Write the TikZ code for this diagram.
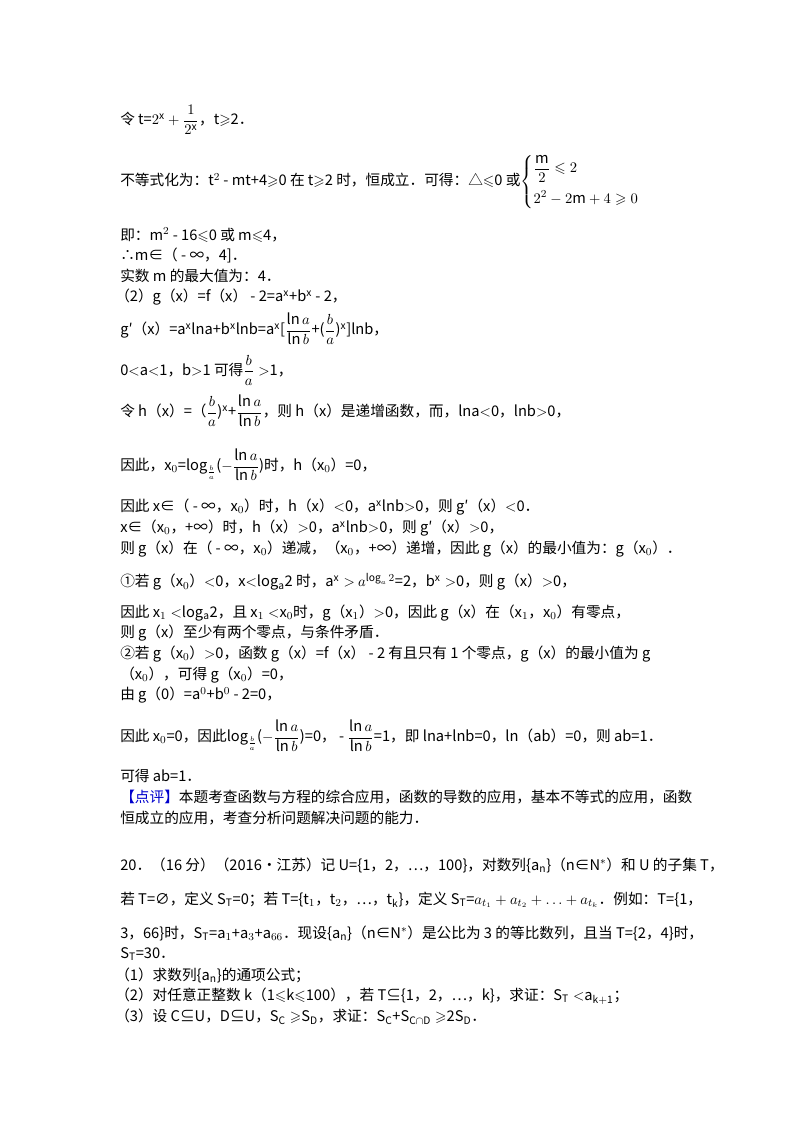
\documentclass[tikz,border=0pt]{standalone}
\usepackage{amsmath,amssymb}
\usepackage{fontspec}
\setmainfont{Noto Sans CJK SC}
\begin{document}
\begin{tikzpicture}[x=0.75pt,y=-0.75pt,
  ln/.style={anchor=west,inner sep=0pt,font=\fontsize{11pt}{13pt}\selectfont}]
\useasboundingbox (0,0) rectangle (800,1132);
\node[ln] (l1) at (120,120) {令 t=$2^{\mathrm{x}}+\dfrac{1}{2^{\mathrm{x}}}$，t$\geqslant$2．};
\node[ln] (l2) at (120,182) {不等式化为：t$^2$ - mt+4$\geqslant$0 在 t$\geqslant$2 时，恒成立．可得：△$\leqslant$0 或$\left\{\begin{aligned}&\dfrac{\mathrm{m}}{2}\leqslant 2\\[2pt]&2^2-2\mathrm{m}+4\geqslant 0\end{aligned}\right.$};
\node[ln] (l3) at (120,235) {即：m$^2$ - 16$\leqslant$0 或 m$\leqslant$4，};
\node[ln] (l4) at (120,255) {∴m∈（ - ∞，4]．};
\node[ln] (l5) at (120,276) {实数 m 的最大值为：4．};
\node[ln] (l6) at (115,297) {（2）g（x）=f（x） - 2=a$^{\mathrm x}$+b$^{\mathrm x}$ - 2，};
\node[ln] (l7) at (120,329) {g′（x）=a$^{\mathrm x}$lna+b$^{\mathrm x}$lnb=a$^{\mathrm x}$[$\dfrac{\ln a}{\ln b}$+($\dfrac{b}{a}$)$^{\mathrm x}$]lnb，};
\node[ln] (l8) at (120,370) {0$<$a$<$1，b$>$1 可得$\dfrac{b}{a}>$1，};
\node[ln] (l9) at (120,411) {令 h（x）=（$\dfrac{b}{a}$)$^{\mathrm x}$+$\dfrac{\ln a}{\ln b}$，则 h（x）是递增函数，而，lna$<$0，lnb$>$0，};
\node[ln] (l10) at (120,465) {因此，x$_0$=$\log_{\frac{b}{a}}$($-\dfrac{\ln a}{\ln b}$)时，h（x$_0$）=0，};
\node[ln] (l11) at (120,507) {因此 x∈（ - ∞，x$_0$）时，h（x）$<$0，a$^{\mathrm x}$lnb$>$0，则 g′（x）$<$0．};
\node[ln] (l12) at (120,528) {x∈（x$_0$，+∞）时，h（x）$>$0，a$^{\mathrm x}$lnb$>$0，则 g′（x）$>$0，};
\node[ln] (l13) at (120,549) {则 g（x）在（ - ∞，x$_0$）递减，（x$_0$，+∞）递增，因此 g（x）的最小值为：g（x$_0$）．};
\node[ln] (l14) at (120,582) {①若 g（x$_0$）$<$0，x$<$log$_{\mathrm a}$2 时，a$^{\mathrm x}>$ $a^{\log_a 2}$=2，b$^{\mathrm x}>$0，则 g（x）$>$0，};
\node[ln] (l15) at (120,613) {因此 x$_1<$log$_{\mathrm a}$2，且 x$_1<$x$_0$时，g（x$_1$）$>$0，因此 g（x）在（x$_1$，x$_0$）有零点，};
\node[ln] (l16) at (120,633) {则 g（x）至少有两个零点，与条件矛盾．};
\node[ln] (l17) at (120,654) {②若 g（x$_0$）$>$0，函数 g（x）=f（x） - 2 有且只有 1 个零点，g（x）的最小值为 g};
\node[ln] (l18) at (120,675) {（x$_0$），可得 g（x$_0$）=0，};
\node[ln] (l19) at (120,695) {由 g（0）=a$^0$+b$^0$ - 2=0，};
\node[ln] (l20) at (120,736) {因此 x$_0$=0，因此$\log_{\frac{b}{a}}$($-\dfrac{\ln a}{\ln b}$)=0， - $\dfrac{\ln a}{\ln b}$=1，即 lna+lnb=0，ln（ab）=0，则 ab=1．};
\node[ln] (l21) at (120,776) {可得 ab=1．};
\node[ln] (l22) at (120,797) {\textcolor{blue!80!black}{【点评】}本题考查函数与方程的综合应用，函数的导数的应用，基本不等式的应用，函数};
\node[ln] (l23) at (120,818) {恒成立的应用，考查分析问题解决问题的能力．};
\node[ln] (l24) at (120,865) {20．（16 分）（2016•江苏）记 U=\{1，2，…，100\}，对数列\{a$_{\mathrm n}$\}（n∈N$^*$）和 U 的子集 T，};
\node[ln] (l25) at (120,900) {若 T=∅，定义 S$_{\mathrm T}$=0；若 T=\{t$_1$，t$_2$，…，t$_{\mathrm k}$\}，定义 S$_{\mathrm T}$=$a_{t_1}+a_{t_2}+\ldots+a_{t_k}$．例如：T=\{1，};
\node[ln] (l26) at (120,933) {3，66\}时，S$_{\mathrm T}$=a$_1$+a$_3$+a$_{66}$．现设\{a$_{\mathrm n}$\}（n∈N$^*$）是公比为 3 的等比数列，且当 T=\{2，4\}时，};
\node[ln] (l27) at (120,954) {S$_{\mathrm T}$=30．};
\node[ln] (l28) at (115,975) {（1）求数列\{a$_{\mathrm n}$\}的通项公式；};
\node[ln] (l29) at (115,996) {（2）对任意正整数 k（1$\leqslant$k$\leqslant$100），若 T⊆\{1，2，…，k\}，求证：S$_{\mathrm T}<$a$_{\mathrm{k+1}}$；};
\node[ln] (l30) at (115,1017) {（3）设 C⊆U，D⊆U，S$_{\mathrm C}\geqslant$S$_{\mathrm D}$，求证：S$_{\mathrm C}$+S$_{\mathrm{C\cap D}}\geqslant$2S$_{\mathrm D}$．};
\end{tikzpicture}
\end{document}
